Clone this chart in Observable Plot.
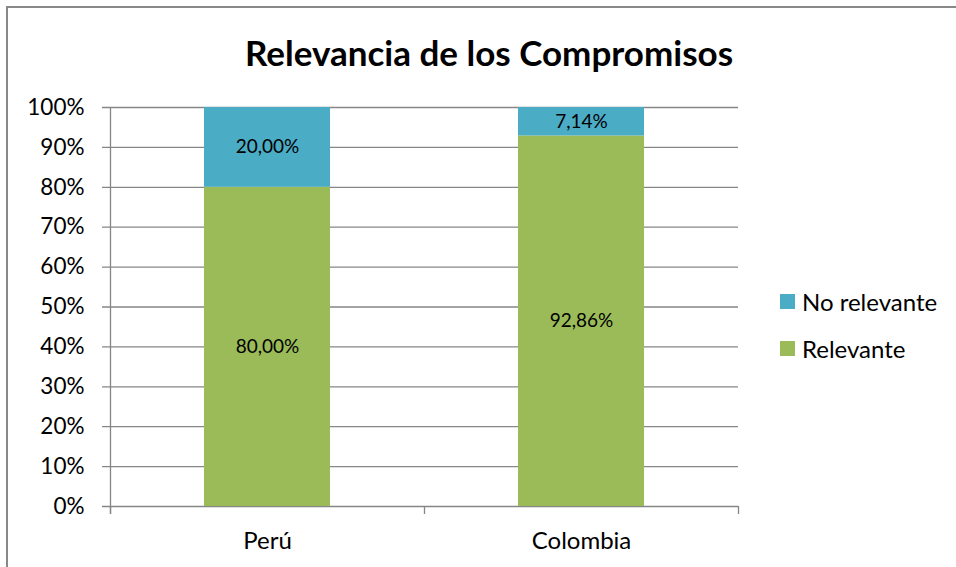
<!DOCTYPE html>
<html>
<head>
<meta charset="utf-8">
<script src="https://cdn.jsdelivr.net/npm/d3@7"></script>
<script src="https://cdn.jsdelivr.net/npm/@observablehq/plot@0.6"></script>
<style>
  html, body { margin: 0; padding: 0; background: #fff; }
  #chart { position: relative; width: 956px; height: 567px; overflow: hidden; font-family: Lato, "Open Sans", sans-serif; }
  #border { position: absolute; left: 6px; top: 6px; width: 1000px; height: 1000px; border-left: 2px solid #888; border-top: 2px solid #888; box-sizing: border-box; }
  #title { position: absolute; left: 0; top: 0; width: 978px; height: 90px; text-align: center; font-weight: bold; font-size: 35px; line-height: 104px; color: #000; }
  #plot { position: absolute; left: 0; top: 90px; }
  #legend { position: absolute; left: 780px; top: 287px; font-size: 24px; color: #000; }
  .item { display: flex; align-items: center; height: 29px; margin-bottom: 18px; }
  .sw { width: 15px; height: 15px; margin-right: 7px; }
</style>
</head>
<body>
<div id="chart">
  <div id="border"></div>
  <div id="title"></div>
  <div id="plot"></div>
  <div id="legend"></div>
</div>
<script>
const titleText = "Relevancia de los Compromisos";
const categories = ["Perú", "Colombia"];
const relevante = [80.00, 92.86];
const noRelevante = [20.00, 7.14];
const series = ["Relevante", "No relevante"];
const colors = ["#9BBB59", "#4BACC6"];
const legendOrder = ["No relevante", "Relevante"];
const yTicks = [0, 10, 20, 30, 40, 50, 60, 70, 80, 90, 100];

const rows = [];
categories.forEach((c, i) => {
  rows.push({cat: c, i, serie: series[0], value: relevante[i], y1: 0, y2: relevante[i]});
  rows.push({cat: c, i, serie: series[1], value: noRelevante[i], y1: relevante[i], y2: relevante[i] + noRelevante[i]});
});
const fmt = v => v.toFixed(2).replace(".", ",") + "%";
const boundaries = d3.range(categories.length + 1);
const centers = categories.map((c, i) => i + 0.5);

document.getElementById("title").textContent = titleText;

const gridColor = "#868686";
const plot = Plot.plot({
  width: 956,
  height: 477,
  marginTop: 17,
  marginBottom: 61,
  marginLeft: 110,
  marginRight: 218,
  style: {fontFamily: "Lato, 'Open Sans', sans-serif", color: "#000", background: "transparent"},
  x: {domain: [0, categories.length], axis: null},
  y: {domain: [0, 100], axis: null},
  color: {domain: series, range: colors},
  marks: [
    Plot.ruleY(yTicks, {y: d => d, stroke: gridColor, strokeWidth: 1.3, insetLeft: -8}),
    Plot.ruleX([0], {stroke: gridColor, strokeWidth: 1.3, insetBottom: -8}),
    Plot.rect(rows, {x1: d => d.i, x2: d => d.i + 1, y1: "y1", y2: "y2", fill: "serie", insetLeft: 94, insetRight: 94}),
    Plot.text(rows, {x: d => d.i + 0.5, y: d => (d.y1 + d.y2) / 2, text: d => fmt(d.value), fontSize: 19, fill: "#000"}),
    Plot.axisY(yTicks, {tickSize: 0, tickPadding: 26, tickFormat: d => d + "%", fontSize: 22.5, fill: "#000"}),
    Plot.axisX(boundaries, {tickSize: 8, tickFormat: () => "", stroke: gridColor, strokeWidth: 1.3}),
    Plot.axisX(centers, {tickSize: 0, tickPadding: 25, tickFormat: d => categories[Math.floor(d)], fontSize: 24, fill: "#000"})
  ]
});
document.getElementById("plot").appendChild(plot);

const legend = d3.select("#legend");
legendOrder.forEach(s => {
  const item = legend.append("div").attr("class", "item");
  item.append("div").attr("class", "sw").style("background", colors[series.indexOf(s)]);
  item.append("span").text(s);
});
</script>
</body>
</html>
